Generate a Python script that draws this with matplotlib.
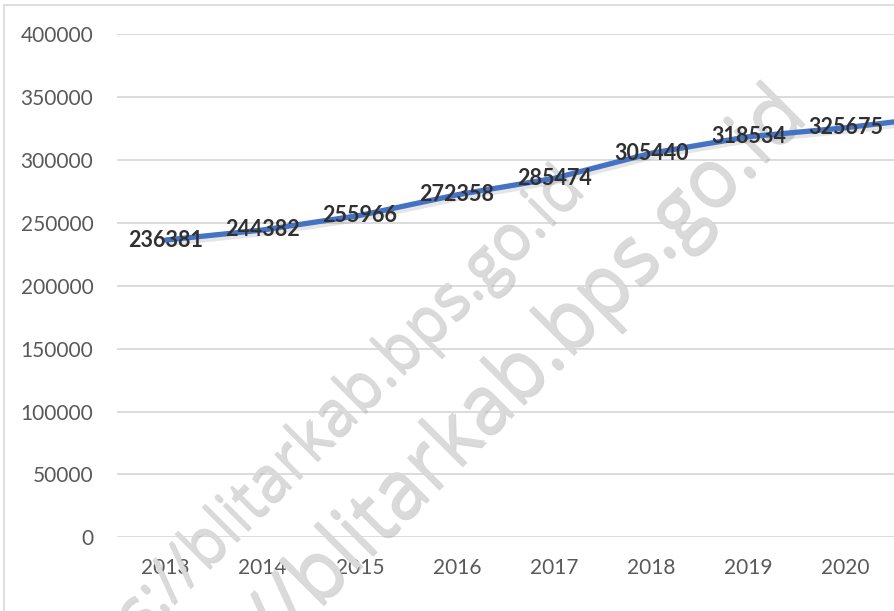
import matplotlib
matplotlib.use("Agg")
import matplotlib.pyplot as plt
import matplotlib.patheffects as pe
from matplotlib.lines import Line2D

# data
tahun = ["2013", "2014", "2015", "2016", "2017", "2018", "2019", "2020", "2021"]
nilai = [236381, 244382, 255966, 272358, 285474, 305440, 318534, 325675, 335000]
label_tampil = ["236381", "244382", "255966", "272358", "285474", "305440", "318534", "325675", ""]
y_ticks = [0, 50000, 100000, 150000, 200000, 250000, 300000, 350000, 400000]

W, H = 894, 611
plt.rcParams['font.family'] = ['Lato', 'DejaVu Sans']

fig = plt.figure(figsize=(W / 100, H / 100), dpi=100)
ax = fig.add_axes([117 / W, (H - 537.3) / H, (W - 117) / W, (537.3 - 34.3) / H])

x = list(range(len(tahun)))
ax.plot(x, nilai, color='#4472C4', linewidth=3.8, solid_capstyle='round', zorder=3,
        path_effects=[pe.SimpleLineShadow(offset=(1.5, -2.5), shadow_color='#808080', alpha=0.2),
                      pe.Normal()])

for xi, v, t in zip(x, nilai, label_tampil):
    if t:
        ax.text(xi, v, t, ha='center', va='center', fontsize=15.5, fontweight='bold',
                color='#303030', zorder=4)

ax.set_xlim(-0.5, 7.5)
ax.set_ylim(0, 400000)
ax.set_yticks(y_ticks)
ax.set_yticklabels([str(v) for v in y_ticks])
ax.set_xticks(x[:8])
ax.set_xticklabels(tahun[:8])
ax.tick_params(axis='both', length=0, labelsize=15, labelcolor='#595959')
ax.tick_params(axis='y', pad=17)
ax.tick_params(axis='x', pad=15)
ax.grid(axis='y', color='#d9d9d9', linewidth=1.3)
ax.set_axisbelow(True)
for s in ax.spines.values():
    s.set_visible(False)

# watermark
for (px, py, fs) in [(586, 190, 45), (808, 118, 58)]:
    ax.text(px / W, 1 - py / H, "https://blitarkab.bps.go.id", transform=fig.transFigure,
            rotation=45, rotation_mode='anchor', ha='right', va='baseline',
            fontsize=fs, color='#dadada', zorder=1.5, clip_on=False,
            family=['Open Sans', 'DejaVu Sans'],
            path_effects=[pe.SimplePatchShadow(offset=(1.5, -1.5), shadow_rgbFace='#b0b0b0', alpha=0.5),
                          pe.Normal()])

# border of chart area
fig.add_artist(Line2D([4 / W, 1], [1 - 5 / H, 1 - 5 / H], color='#d9d9d9', linewidth=1.2))
fig.add_artist(Line2D([4 / W, 4 / W], [0, 1 - 5 / H], color='#d9d9d9', linewidth=1.2))

fig.savefig("out.png", dpi=100)
